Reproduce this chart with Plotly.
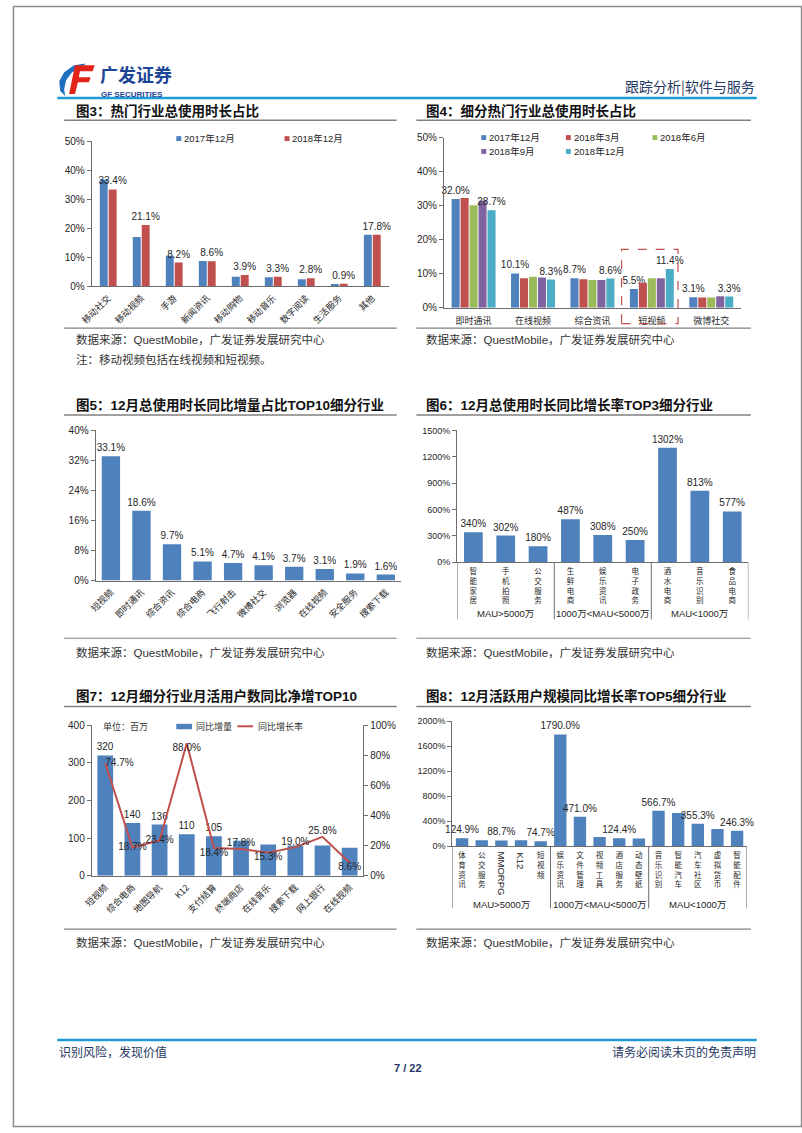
import plotly.graph_objects as go

W, H = 802, 1133
def X(px): return px / W
def Y(py): return 1 - py / H

NUM = "Liberation Sans, Arial, Noto Sans CJK SC, sans-serif"
CJK = "Noto Sans CJK SC, sans-serif"
BLUE, RED, GREEN, PURPLE, CYAN = "#4F81BD", "#C0504D", "#9BBB59", "#8064A2", "#4BACC6"
AX = "#6d6d6d"
TXT = "#262626"
NAVY = "#1F3864"

# ---------------- data ----------------
# Fig3
f3_cats = ["移动社交", "移动视频", "手游", "新闻资讯", "移动购物", "移动音乐", "数字阅读", "生活服务", "其他"]
f3_series = ["2017年12月", "2018年12月"]
f3_2017 = [36.8, 17.0, 10.5, 8.7, 3.3, 3.1, 2.4, 0.8, 17.8]
f3_2018 = [33.4, 21.1, 8.2, 8.6, 3.9, 3.3, 2.8, 0.9, 17.8]

# Fig4
f4_cats = ["即时通讯", "在线视频", "综合资讯", "短视频", "微博社交"]
f4_series = ["2017年12月", "2018年3月", "2018年6月", "2018年9月", "2018年12月"]
f4_1712 = [32.0, 10.1, 8.7, 5.5, 3.1]
f4_1803 = [32.3, 8.7, 8.4, 7.4, 3.0]
f4_1806 = [30.2, 9.1, 8.2, 8.7, 3.0]
f4_1809 = [31.5, 8.9, 8.2, 8.7, 3.4]
f4_1812 = [28.7, 8.3, 8.6, 11.4, 3.3]
f4_labeled = [True, False, False, False, True]

# Fig5
f5_cats = ["短视频", "即时通讯", "综合资讯", "综合电商", "飞行射击", "微博社交", "浏览器", "在线视频", "安全服务", "搜索下载"]
f5_vals = [33.1, 18.6, 9.7, 5.1, 4.7, 4.1, 3.7, 3.1, 1.9, 1.6]

# Fig6
f6_cats = ["智能家居", "手机拍照", "公交服务", "生鲜电商", "娱乐资讯", "电子政务", "酒水电商", "音乐识别", "食品电商"]
f6_vals = [340, 302, 180, 487, 308, 250, 1302, 813, 577]
f6_groups = ["MAU>5000万", "1000万<MAU<5000万", "MAU<1000万"]

# Fig7
f7_cats = ["短视频", "综合电商", "地图导航", "K12", "支付结算", "终端商店", "在线音乐", "搜索下载", "网上银行", "在线视频"]
f7_inc = [320, 140, 136, 110, 105, 93, 83, 80, 80, 74]
f7_rate = [74.7, 18.7, 23.4, 88.0, 18.4, 17.8, 15.3, 19.0, 25.8, 8.6]
f7_series = ["同比增量", "同比增长率"]
f7_inc_labeled = [True, True, True, True, True, False, False, False, False, False]

# Fig8
f8_cats = ["体育资讯", "公交服务", "MMORPG", "K12", "短视频",
           "娱乐资讯", "文件管理", "视频工具", "酒店服务", "动态壁纸",
           "音乐识别", "智能汽车", "汽车社区", "虚拟货币", "智能配件"]
f8_vals = [124.9, 92, 88.7, 92, 74.7, 1790.0, 471.0, 143, 124.4, 121, 566.7, 528, 355.3, 272, 246.3]
f8_labeled = [True, False, True, False, True, True, True, False, True, False, True, False, True, False, True]
f8_groups = ["MAU>5000万", "1000万<MAU<5000万", "MAU<1000万"]

# ---------------- figure ----------------
fig = go.Figure()

def add_bar(x, y, xa, ya, color, width, offset=None, text=None, tsize=10):
    kw = dict(x=x, y=y, xaxis=xa, yaxis=ya, width=width,
              marker=dict(color=color, line=dict(width=0)),
              showlegend=False, hoverinfo="skip", cliponaxis=False)
    if offset is not None:
        kw["offset"] = offset
    if text is not None:
        kw.update(text=text, textposition="outside", constraintext="none",
                  textfont=dict(family=NUM, size=tsize, color=TXT))
    fig.add_trace(go.Bar(**kw))

# Fig3
add_bar(f3_cats, f3_2017, "x", "y", BLUE, 0.24, -0.255)
add_bar(f3_cats, f3_2018, "x", "y", RED, 0.24, 0.015, [f"{v:.1f}%" for v in f3_2018])

# Fig4
f4_all = [f4_1712, f4_1803, f4_1806, f4_1809, f4_1812]
f4_colors = [BLUE, RED, GREEN, PURPLE, CYAN]
for i, (vals, col) in enumerate(zip(f4_all, f4_colors)):
    txt = [f"{v:.1f}%" for v in vals] if f4_labeled[i] else None
    add_bar(f4_cats, vals, "x2", "y2", col, 0.135, -0.37 + i * 0.151, txt)

# Fig5
add_bar(f5_cats, f5_vals, "x3", "y3", BLUE, 0.6, text=[f"{v:.1f}%" for v in f5_vals])

# Fig6
add_bar(f6_cats, f6_vals, "x4", "y4", BLUE, 0.58, text=[f"{v:.0f}%" for v in f6_vals])

# Fig7
add_bar(f7_cats, f7_inc, "x5", "y5", BLUE, 0.58,
        text=[f"{v}" if s else "" for v, s in zip(f7_inc, f7_inc_labeled)])
f7_pos = ["middle right", "middle center", "middle center", "bottom center", "bottom center",
          "top center", "bottom center", "top center", "top center", "bottom center"]
fig.add_trace(go.Scatter(x=f7_cats, y=f7_rate, xaxis="x5", yaxis="y6", mode="lines+text",
                         line=dict(color=RED, width=2), text=[f"{v:.1f}%" for v in f7_rate],
                         textposition=f7_pos, textfont=dict(family=NUM, size=10, color=TXT),
                         cliponaxis=False, showlegend=False, hoverinfo="skip"))

# Fig8
add_bar(f8_cats, f8_vals, "x6", "y7", BLUE, 0.63,
        text=[f"{v:.1f}%" if s else "" for v, s in zip(f8_vals, f8_labeled)], tsize=10)

# ---------------- axes ----------------
def yax(top, bottom, anchor, rng, dtick, suffix="", size=10):
    return dict(domain=[Y(bottom), Y(top)], anchor=anchor, range=rng, tickmode="linear", tick0=0,
                dtick=dtick, ticksuffix=suffix, showgrid=False, zeroline=False, showline=True,
                linecolor=AX, linewidth=1, ticks="outside", ticklen=4, tickcolor=AX,
                tickfont=dict(family=NUM, size=size, color=TXT), fixedrange=True)

def xax(left, right, anchor, n, tickangle=0, size=9, cats=None, ticktext=None, ticklen=0):
    d = dict(domain=[X(left), X(right)], anchor=anchor, type="category", range=[-0.5, n - 0.5],
             showgrid=False, zeroline=False, showline=True, linecolor=AX, linewidth=1,
             tickangle=tickangle, tickfont=dict(family=CJK, size=size, color=TXT), fixedrange=True)
    if ticklen:
        d.update(ticks="outside", ticklen=ticklen, tickcolor="rgba(0,0,0,0)")
    else:
        d.update(ticks="")
    if ticktext is not None:
        d.update(tickmode="array", tickvals=cats, ticktext=ticktext)
    return d

def stacked(name):
    if name.isascii():
        return ""
    return "<br>".join(list(name))

layout_axes = dict(
    xaxis=xax(80, 382, "y", len(f3_cats), tickangle=-45, size=9, ticklen=2),
    yaxis=yax(136.7, 283.3, "x", [0, 50], 10, "%"),
    xaxis2=xax(438, 740, "y2", len(f4_cats), tickangle=0, size=9, ticklen=4),
    yaxis2=yax(133.3, 305, "x2", [0, 50], 10, "%"),
    xaxis3=xax(84, 394.5, "y3", len(f5_cats), tickangle=-45, size=9, ticklen=2),
    yaxis3=yax(429, 580.7, "x3", [0, 40], 8, "%"),
    xaxis4=xax(451.5, 747.5, "y4", len(f6_cats), tickangle=0, size=7.5, cats=f6_cats,
               ticktext=[stacked(c) for c in f6_cats], ticklen=2),
    yaxis4=yax(429, 562, "x4", [0, 1500], 300, "%", size=9),
    xaxis5=xax(80, 356, "y5", len(f7_cats), tickangle=-45, size=9, ticklen=2),
    yaxis5=yax(727, 879, "x5", [0, 400], 100, "", size=10),
    yaxis6=dict(overlaying="y5", side="right", anchor="x5", range=[0, 100], tickmode="linear",
                tick0=0, dtick=20, ticksuffix="%", showgrid=False, zeroline=False, showline=True,
                linecolor=AX, linewidth=1, ticks="outside", ticklen=4, tickcolor=AX,
                tickfont=dict(family=NUM, size=10, color=TXT), fixedrange=True),
    xaxis6=xax(446.5, 746, "y7", len(f8_cats), tickangle=0, size=7.5, cats=f8_cats,
               ticktext=[stacked(c) for c in f8_cats], ticklen=2),
    yaxis7=yax(723, 849, "x6", [0, 2000], 400, "%", size=9),
)

shapes = []
annotations = []

def line(x0, y0, x1, y1, color="#7f7f7f", width=1.2, dash="solid", xref="paper"):
    shapes.append(dict(type="line", xref=xref, yref="paper",
                       x0=X(x0) if xref == "paper" else x0, x1=X(x1) if xref == "paper" else x1,
                       y0=Y(y0), y1=Y(y1), line=dict(color=color, width=width, dash=dash)))

def text(x, y, s, size=11, color=TXT, family=CJK, xanchor="left", bold=False, textangle=0, xref="paper"):
    annotations.append(dict(xref=xref, yref="paper", x=X(x) if xref == "paper" else x, y=Y(y),
                            text=f"<b>{s}</b>" if bold else s, showarrow=False,
                            xanchor=xanchor, yanchor="middle", textangle=textangle,
                            font=dict(size=size, color=color, family=family)))

def rect(x0, y0, x1, y1, color):
    shapes.append(dict(type="rect", xref="paper", yref="paper", x0=X(x0), x1=X(x1),
                       y0=Y(y1), y1=Y(y0), fillcolor=color, line=dict(width=0)))

def path(pts, color):
    d = "M " + " L ".join(f"{X(a):.5f},{Y(b):.5f}" for a, b in pts) + " Z"
    shapes.append(dict(type="path", xref="paper", yref="paper", path=d,
                       fillcolor=color, line=dict(width=0)))

# page frame
shapes.append(dict(type="rect", xref="paper", yref="paper", x0=0.0006, x1=0.9994, y0=0.0005, y1=0.9995,
                   line=dict(color="#8c8c8c", width=1.5)))

# header
path([(74, 58), (62, 60), (52, 67), (47, 76), (48, 86), (53, 91), (52, 84), (54, 75), (60, 67), (70, 62)], "#1E6FC0")
path([(63, 60), (83, 60), (81, 66), (68, 66), (67, 72), (79, 72), (77, 77), (66, 77), (63, 89), (57, 89)], "#E2231A")
text(86, 69, "广发证券", size=18, color="#1D4596", family=CJK, bold=True)
text(87, 89, "GF SECURITIES", size=8, color="#1D4596", family=NUM, bold=True)
text(756, 81, "跟踪分析|软件与服务", size=14, color=NAVY, family=CJK, xanchor="right")
line(45, 93, 756, 93, color="#1E9BD7", width=2.5)

# footer
line(45, 1045, 756, 1045, color="#1E9BD7", width=2.5)
text(45, 1057, "识别风险，发现价值", size=12, color=NAVY)
text(757, 1057, "请务必阅读末页的免责声明", size=12, color=NAVY, xanchor="right")
text(401, 1073, "7 / 22", size=11, color=NAVY, family=NUM, xanchor="center", bold=True)

SRC = "数据来源：QuestMobile，广发证券发展研究中心"

# titles and rules
for (tx, ty, ux0, ux1, uy, s) in [
    (62, 106, 52, 390, 115.5, "图3：热门行业总使用时长占比"),
    (418, 106, 410, 750, 115.5, "图4：细分热门行业总使用时长占比"),
    (62, 403, 52, 390, 413.5, "图5：12月总使用时长同比增量占比TOP10细分行业"),
    (418, 403, 410, 750, 413.5, "图6：12月总使用时长同比增长率TOP3细分行业"),
    (62, 697, 52, 390, 708, "图7：12月细分行业月活用户数同比净增TOP10"),
    (418, 697, 410, 750, 708, "图8：12月活跃用户规模同比增长率TOP5细分行业"),
]:
    text(tx, ty, s, size=13.5, color="#111111", family=NUM, bold=True)
    line(ux0, uy, ux1, uy, color="#808080", width=1.5)

for (lx0, lx1, ly, sx, sy) in [
    (52, 390, 325.5, 62, 337), (410, 750, 325.5, 418, 337),
    (52, 390, 639, 62, 653), (410, 750, 639, 418, 653),
    (52, 390, 933, 62, 947), (410, 750, 933, 418, 947),
]:
    line(lx0, ly, lx1, ly, color="#808080", width=1.2)
    text(sx, sy, SRC, size=11.5, color="#333333", family=NUM)
text(62, 357, "注：移动视频包括在线视频和短视频。", size=11.5, color="#333333")

# Fig3 legend
for (sx, col, name) in [(166, BLUE, f3_series[0]), (276, RED, f3_series[1])]:
    rect(sx, 131.5, sx + 5, 136.5, col)
    text(sx + 6, 134, name, size=9.5, family=NUM)

# Fig4 legend
for i, (name, col) in enumerate(zip(f4_series, f4_colors)):
    sx = [476, 562, 650][i % 3]
    sy = [133, 147][i // 3]
    rect(sx, sy - 2.5, sx + 5, sy + 2.5, col)
    text(sx + 6, sy, name, size=9.5, family=NUM)

# Fig4 highlight box
shapes.append(dict(type="rect", xref="x2", yref="paper", x0=2.49, x1=3.44, y0=Y(321), y1=Y(246),
                   line=dict(color=RED, width=1.2, dash="dash"), fillcolor="rgba(0,0,0,0)"))

# Fig6 groups
for xv in [-0.5, 2.5, 5.5, 8.5]:
    line(xv, 562, xv, 620, color=AX, width=1, xref="x4")
for i, g in enumerate(f6_groups):
    text(1 + 3 * i, 614, g, size=9.5, family=NUM, xanchor="center", xref="x4")

# Fig7 legend
text(89, 728, "单位：百万", size=9, color="#333333")
rect(166, 725.5, 182, 731, BLUE)
text(184, 728, f7_series[0], size=9, color="#333333")
line(228, 728, 244, 728, color=RED, width=2)
text(247, 728, f7_series[1], size=9, color="#333333")

# Fig8 groups and rotated latin labels
for xv in [-0.5, 4.5, 9.5, 14.5]:
    line(xv, 849, xv, 912, color=AX, width=1, xref="x6")
for i, g in enumerate(f8_groups):
    text(2 + 5 * i, 908, g, size=9.5, family=NUM, xanchor="center", xref="x6")
for c in f8_cats:
    if c.isascii():
        annotations.append(dict(xref="x6", yref="paper", x=c, y=Y(853), text=c, showarrow=False,
                                textangle=90, xanchor="center", yanchor="top",
                                font=dict(size=9.5, color=TXT, family=NUM)))

fig.update_layout(
    width=W, height=H, margin=dict(l=0, r=0, t=0, b=0),
    paper_bgcolor="white", plot_bgcolor="white", barmode="overlay",
    showlegend=False, shapes=shapes, annotations=annotations, **layout_axes,
)

fig.write_html("out.html", config={"displayModeBar": False},
               post_script="document.body.style.margin='0';")
